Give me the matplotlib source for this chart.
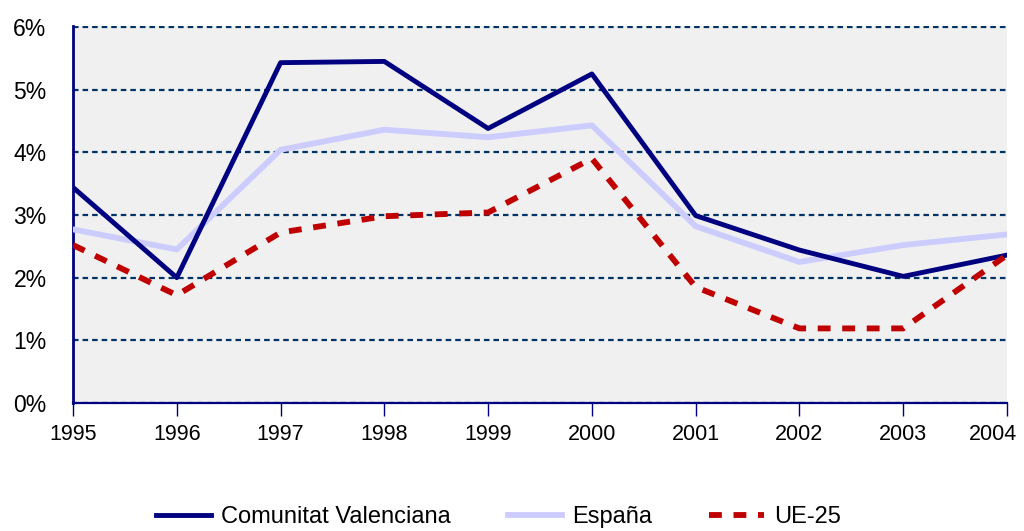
import matplotlib
matplotlib.use("Agg")
import matplotlib.pyplot as plt
import matplotlib.transforms as mtransforms
from matplotlib.ticker import FuncFormatter

years = [1995, 1996, 1997, 1998, 1999, 2000, 2001, 2002, 2003, 2004]
cv = [3.44, 2.00, 5.43, 5.45, 4.38, 5.25, 2.99, 2.44, 2.02, 2.36]
espana = [2.77, 2.45, 4.04, 4.36, 4.24, 4.43, 2.82, 2.25, 2.52, 2.69]
ue25 = [2.52, 1.72, 2.72, 2.98, 3.04, 3.90, 1.85, 1.19, 1.19, 2.36]
labels = ["Comunitat Valenciana", "España", "UE-25"]

plt.rcParams['font.family'] = ['Liberation Sans', 'DejaVu Sans']

fig = plt.figure(figsize=(10.24, 5.31), dpi=100)
ax = fig.add_axes([73/1024, 1-403/531, (1007-73)/1024, (403-26)/531])
ax.set_facecolor('#F0F0F0')

ax.set_xlim(1995, 2004)
ax.set_ylim(0, 6.015)
ax.set_yticks(range(0, 7))
ax.yaxis.set_major_formatter(FuncFormatter(lambda v, p: f"{int(v)}%"))
ax.set_xticks(years)
ax.grid(axis='y', color='#003366', linestyle=(0, (2.5, 1.8)), linewidth=1.6, zorder=1)
ax.set_axisbelow(True)

ax.plot(years, espana, color='#CCCCFF', linewidth=4.2, label=labels[1], zorder=3)
ax.plot(years, cv, color='#000080', linewidth=3.5, label=labels[0], zorder=4)
ax.plot(years, ue25, color='#C00000', linewidth=4.2, linestyle=(0, (2.2, 2.0)), label=labels[2], zorder=5)

for s in ['top', 'right']:
    ax.spines[s].set_visible(False)
ax.spines['left'].set_color('#000080')
ax.spines['left'].set_linewidth(2)
ax.spines['bottom'].set_color('#000080')
ax.spines['bottom'].set_linewidth(1.6)
ax.tick_params(axis='y', length=0, labelsize=16.5, pad=19)
ax.tick_params(axis='x', length=9, color='#000080', width=1, labelsize=15.5, pad=6)

last = ax.get_xticklabels()[-1]
last.set_horizontalalignment('right')
last.set_transform(last.get_transform() + mtransforms.ScaledTranslation(10/100, 0, fig.dpi_scale_trans))

handles, lbls = ax.get_legend_handles_labels()
order = [1, 0, 2]
fig.legend([handles[i] for i in order], [lbls[i] for i in order], loc='center',
           bbox_to_anchor=(0.487, 0.026), ncol=3, frameon=False, fontsize=17,
           handlelength=2.3, columnspacing=2.4, handletextpad=0.45)

fig.savefig('out.png', dpi=100)
